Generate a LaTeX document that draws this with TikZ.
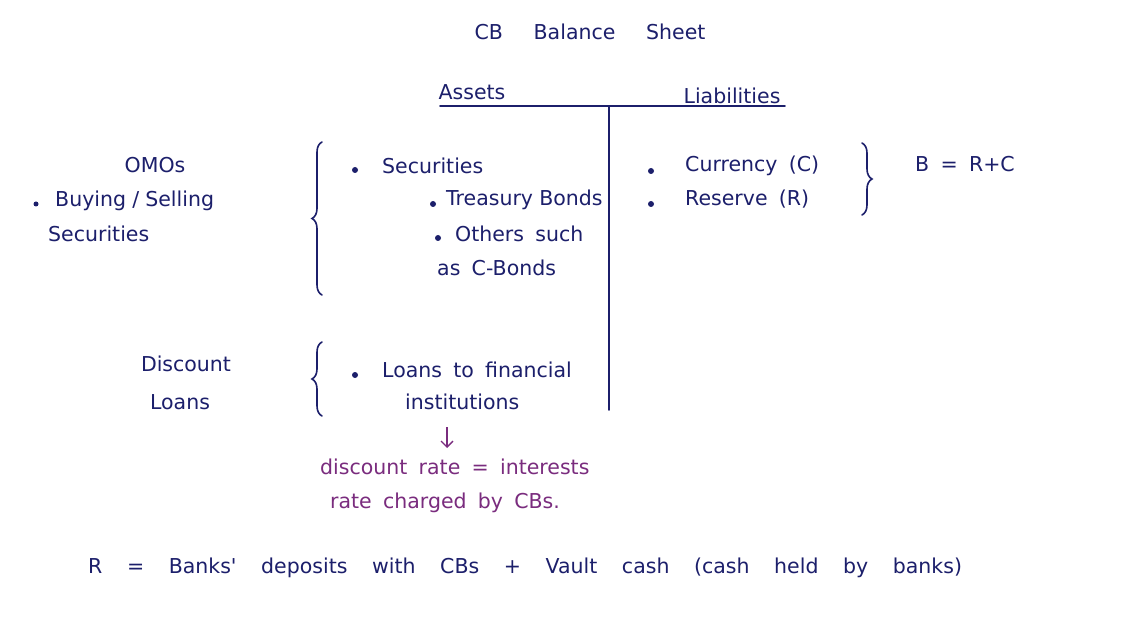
\documentclass[tikz,border=0pt]{standalone}
\usepackage{fontspec}
\newfontfamily\hand{DejaVu Sans}
\usetikzlibrary{decorations.pathreplacing,arrows.meta}
\definecolor{ink}{HTML}{1C1F6B}
\definecolor{plum}{HTML}{7A2C7E}
\newcommand{\handfont}{\hand\fontsize{20.5}{24}\selectfont\spaceskip=0.55em\relax}
\newcommand{\handtightfont}{\hand\fontsize{20.5}{24}\selectfont\spaceskip=0.3em\relax}
\newcommand{\handtitlefont}{\hand\fontsize{20.5}{24}\selectfont\spaceskip=1.5em\relax}
\newcommand{\handwidefont}{\hand\fontsize{20.5}{24}\selectfont\spaceskip=1.2em\relax}
\tikzset{
  txt/.style={font=\handfont, text=ink, anchor=west, inner sep=0pt},
  ptxt/.style={txt, text=plum},
  bul/.style={circle, fill=ink, inner sep=0pt, minimum size=6pt},
  ln/.style={draw=ink, line width=1.6pt, line cap=round},
  brc/.style={ln, decorate, decoration={brace, amplitude=10pt}},
}
\begin{document}
\begin{tikzpicture}[x=1pt,y=-1pt]
\useasboundingbox (0,0) rectangle (1134,620);
\fill[white] (0,0) rectangle (1134,620);
% title
\node[txt, anchor=center, font=\handtitlefont] (title) at (590,32) {CB Balance Sheet};
\node[txt, anchor=center] (assets) at (472,92) {Assets};
\node[txt, anchor=center] (liab) at (732,96) {Liabilities};
\coordinate (hl) at (440,106);
\coordinate (hr) at (785,106);
\coordinate (vt) at (609,106);
\coordinate (vb) at (609,410);
\draw[ln] (hl) -- (hr);
\draw[ln] (vt) -- (vb);
% OMOs
\node[txt, anchor=center] (omo) at (155,165) {OMOs};
\node[bul, minimum size=5pt] (b0) at (36,204) {};
\node[txt, font=\handtightfont] (buy) at (55,201) {Buying / Selling};
\node[txt] (sec0) at (48,234) {Securities};
% securities brace
\coordinate (br1t) at (322,142);
\coordinate (br1b) at (322,295);
\draw[brc] (br1b) -- (br1t);
\node[bul] (b1) at (355,170) {};
\node[txt] (sec) at (382,166) {Securities};
\node[bul] (b2) at (433,204) {};
\node[txt, font=\handtightfont] (tb) at (446,200) {Treasury Bonds};
\node[bul] (b3) at (438,238) {};
\node[txt] (oth) at (455,234) {Others such};
\node[txt] (cb) at (437,268) {as C-Bonds};
% liabilities
\node[bul] (b4) at (651,171) {};
\node[txt] (cur) at (685,166) {Currency (C)};
\node[bul] (b5) at (651,204) {};
\node[txt] (res) at (685,199) {Reserve (R)};
\coordinate (br2t) at (862,143);
\coordinate (br2b) at (862,215);
\draw[brc] (br2t) -- (br2b);
\node[txt] (beq) at (915,164) {B = R+C};
% discount loans
\node[txt, anchor=center] (disc) at (186,364) {Discount};
\node[txt, anchor=center] (loans) at (180,402) {Loans};
\coordinate (br3t) at (322,342);
\coordinate (br3b) at (322,416);
\draw[brc] (br3b) -- (br3t);
\node[bul] (b6) at (355,375) {};
\node[txt] (lft) at (382,370) {Loans to financial};
\node[txt] (inst) at (405,402) {institutions};
\coordinate (a1) at (447,427);
\coordinate (a2) at (447,448);
\draw[draw=plum, line width=1.3pt, -{Straight Barb[length=6pt,width=12pt]}] (a1) -- (a2);
\node[ptxt] (dr1) at (320,467) {discount rate = interests};
\node[ptxt] (dr2) at (330,503) {rate charged by CBs.};
% bottom
\node[txt, font=\handwidefont] (req) at (88,568) {R = Banks' deposits with CBs + Vault cash (cash held by banks)};
\end{tikzpicture}
\end{document}
